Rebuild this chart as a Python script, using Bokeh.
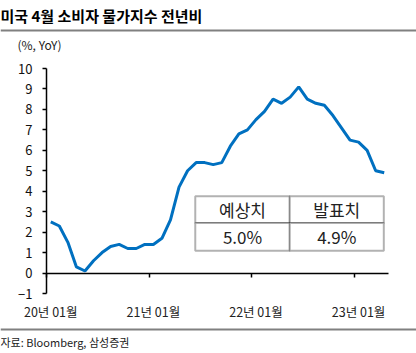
from bokeh.plotting import figure
from bokeh.models import Label, BoxAnnotation, Span, FixedTicker, Range1d, LinearAxis
from bokeh.embed import file_html
from bokeh.resources import INLINE

# ---- data ----
months = [f"{y:02d}년 {m:02d}월" for y in (20, 21, 22, 23) for m in range(1, 13)][:40]
cpi = [2.5, 2.3, 1.5, 0.3, 0.1, 0.6, 1.0, 1.3, 1.4, 1.2, 1.2, 1.4,
       1.4, 1.7, 2.6, 4.2, 5.0, 5.4, 5.4, 5.3, 5.4, 6.2, 6.8, 7.0,
       7.5, 7.9, 8.5, 8.3, 8.6, 9.1, 8.5, 8.3, 8.2, 7.7, 7.1, 6.5,
       6.4, 6.0, 5.0, 4.9]
tick_labels = ["20년 01월", "21년 01월", "22년 01월", "23년 01월"]
y_ticks = list(range(-1, 11))
table_header = ["예상치", "발표치"]
table_values = ["5.0%", "4.9%"]
title_text = "미국 4월 소비자 물가지수 전년비"
unit_text = "(%, YoY)"
source_text = "자료: Bloomberg, 삼성증권"

FONT = "Noto Sans CJK KR"
BLUE = "#0070C0"
GRAY = "#808080"
W, H = 416, 353

# layout: chart area spans px 46..388 horizontally, 68..293 vertically
N = len(months)
PX_X = (388 - 46) / N            # px per month
PX_Y = (293 - 68) / 11.0         # px per % point
x_start = -0.5 - 46 / PX_X
x_end = (N - 0.5) + (W - 388) / PX_X
y_top = 10 + 68 / PX_Y
y_bot = -1 - (H - 293) / PX_Y


def X(px):
    return x_start + px / PX_X


def Y(py):
    return y_top - py / PX_Y


p = figure(width=W, height=H, output_backend="svg", toolbar_location=None,
           x_range=Range1d(x_start, x_end), y_range=Range1d(y_bot, y_top),
           min_border=0, min_border_left=0, min_border_right=0,
           min_border_top=0, min_border_bottom=0)
p.title.visible = False
p.outline_line_color = None
p.grid.visible = False

x = list(range(N))
tick_idx = [months.index(t) for t in tick_labels]

# y axis drawn at the left edge of the category range
ya = p.yaxis[0]
ya.fixed_location = -0.5
ya.bounds = (-1, 10)
ya.ticker = FixedTicker(ticks=y_ticks)
ya.axis_line_width = 1.5
ya.axis_line_color = "black"
ya.major_tick_in = 0
ya.major_tick_out = 4
ya.major_tick_line_width = 1.5
ya.minor_tick_line_color = None
ya.major_label_standoff = 10
ya.major_label_text_font = FONT
ya.major_label_text_font_size = "13px"
ya.major_label_text_color = "#111111"

# x axis line at zero with ticks on year boundaries
xa = p.xaxis[0]
xa.fixed_location = 0
xa.bounds = (-0.5, N - 0.5)
xa.ticker = FixedTicker(ticks=[i - 0.5 for i in tick_idx])
xa.axis_line_width = 1.5
xa.axis_line_color = "black"
xa.major_tick_in = 0
xa.major_tick_out = 4
xa.major_tick_line_width = 1.5
xa.minor_tick_line_color = None
xa.major_label_text_color = None

# x labels under the chart
xl = LinearAxis(fixed_location=-1, ticker=FixedTicker(ticks=tick_idx),
                major_label_overrides={i: t for i, t in zip(tick_idx, tick_labels)})
xl.axis_line_color = None
xl.major_tick_line_color = None
xl.minor_tick_line_color = None
xl.major_tick_out = 0
xl.major_tick_in = 0
xl.major_label_standoff = 8
xl.major_label_text_font = FONT
xl.major_label_text_font_size = "12.5px"
xl.major_label_text_color = "#222222"
p.add_layout(xl, "below")

p.line(x, cpi, line_color=BLUE, line_width=3)

# table
xs = [16.9, 27.95, 38.95]
ys = [3.75, 2.45, 1.09]
for r in range(2):
    for c in range(2):
        p.add_layout(BoxAnnotation(left=xs[c], right=xs[c + 1], top=ys[r], bottom=ys[r + 1],
                                   fill_color="white", fill_alpha=1.0,
                                   line_color="black", line_width=2))
for c in range(2):
    cx = (xs[c] + xs[c + 1]) / 2
    for r, txt in enumerate([table_header[c], table_values[c]]):
        cy = (ys[r] + ys[r + 1]) / 2
        p.add_layout(Label(x=cx, y=cy, text=txt, text_align="center", text_baseline="middle",
                           text_font=FONT, text_font_size="17px", text_color="#222222"))

# header / footer
p.add_layout(Label(x=X(0), y=Y(15), text=title_text, text_font=FONT, text_font_style="bold",
                   text_font_size="15px", text_baseline="middle", text_color="black"))
p.add_layout(Span(location=Y(30), dimension="width", line_color=GRAY, line_width=2))
p.add_layout(Label(x=X(17), y=Y(44), text=unit_text, text_font=FONT, text_font_size="12px",
                   text_baseline="middle", text_color="#222222"))
p.add_layout(Span(location=Y(329), dimension="width", line_color=GRAY, line_width=2))
p.add_layout(Label(x=X(0), y=Y(341), text=source_text, text_font=FONT, text_font_size="11px",
                   text_baseline="middle", text_color="#222222"))

open("out.html", "w").write(file_html(p, INLINE))
